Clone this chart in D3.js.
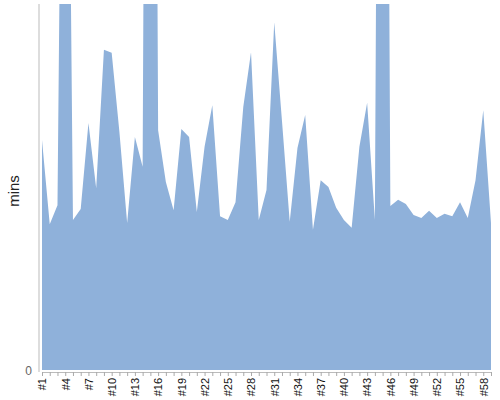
<!DOCTYPE html>
<html>
<head>
<meta charset="utf-8">
<script src="https://cdn.jsdelivr.net/npm/d3@7"></script>
<style>
  body { margin: 0; background: #fff; }
  text { font-family: "Liberation Sans", Arial, sans-serif; }
</style>
</head>
<body>
<div id="chart"></div>
<script>
// game numbers and minutes played
var games = d3.range(1, 60).map(function(d) { return "#" + d; });
var mins = [37.7, 23.9, 27.0, 162.3, 24.6, 26.4, 40.5, 29.8, 52.5, 52.0,
            39.0, 24.1, 38.2, 33.3, 306.6, 39.3, 30.8, 26.2, 39.5, 38.2,
            25.9, 36.6, 43.4, 25.2, 24.6, 27.5, 43.1, 52.1, 24.6, 29.5,
            57.0, 40.8, 24.3, 36.4, 41.8, 23.0, 31.1, 30.0, 26.6, 24.6,
            23.3, 36.6, 43.8, 24.6, 273.8, 26.9, 27.9, 27.2, 25.4, 24.9,
            26.1, 24.9, 25.6, 25.2, 27.5, 24.9, 31.1, 42.6, 24.1];
var yTicks = [0];

var margin = {top: 4, right: 9, bottom: 30, left: 39},
  width = 500 - margin.left - margin.right,
  height = 400 - margin.top - margin.bottom;

var svg = d3.select("#chart")
.append("svg")
  .attr("width", width + margin.left + margin.right)
  .attr("height", height + margin.top + margin.bottom)
.append("g")
  .attr("transform", "translate(" + margin.left + "," + margin.top + ")");

var x = d3.scalePoint()
  .domain(games)
  .range([3, width]);

var y = d3.scaleLinear()
  .domain([0, 60])
  .range([height, 0]);

svg.append("clipPath")
  .attr("id", "clip")
.append("rect")
  .attr("width", width)
  .attr("height", height);

var area = d3.area()
  .x(function(d, i) { return x(games[i]); })
  .y0(y(0))
  .y1(function(d) { return y(d); });

svg.append("path")
  .datum(mins)
  .attr("clip-path", "url(#clip)")
  .attr("fill", "#8fb1da")
  .attr("d", area);

// y axis: only the line and the zero label
svg.append("line")
  .attr("x1", 0).attr("x2", 0)
  .attr("y1", 0).attr("y2", height + 2)
  .style("stroke", "#bbb");

svg.selectAll(".ytick")
  .data(yTicks)
  .enter()
  .append("text")
    .attr("x", -7)
    .attr("y", function(d) { return y(d) + 5; })
    .attr("text-anchor", "end")
    .style("font-size", "12px")
    .style("fill", "#666")
    .text(function(d) { return d; });

svg.append("text")
  .attr("transform", "translate(" + (-20) + "," + (height / 2 + 4) + ") rotate(-90)")
  .attr("text-anchor", "middle")
  .style("font-size", "15px")
  .style("fill", "#222")
  .text("mins");

// x axis
var xAxis = svg.append("g")
  .attr("transform", "translate(0," + (height + 2) + ")")
  .call(d3.axisBottom(x)
    .tickSize(4)
    .tickSizeOuter(0)
    .tickFormat(function(d, i) { return i % 3 === 0 ? d : ""; }));

xAxis.select(".domain").style("stroke", "#bbb");
xAxis.selectAll(".tick line").style("stroke", "#aaa");
xAxis.selectAll(".tick text")
  .attr("transform", "rotate(-90)")
  .attr("text-anchor", "end")
  .attr("x", -6)
  .attr("y", 0)
  .attr("dy", "0.35em")
  .style("font-size", "11px")
  .style("font-family", "'Liberation Sans', Arial, sans-serif")
  .style("fill", "#111");
</script>
</body>
</html>
